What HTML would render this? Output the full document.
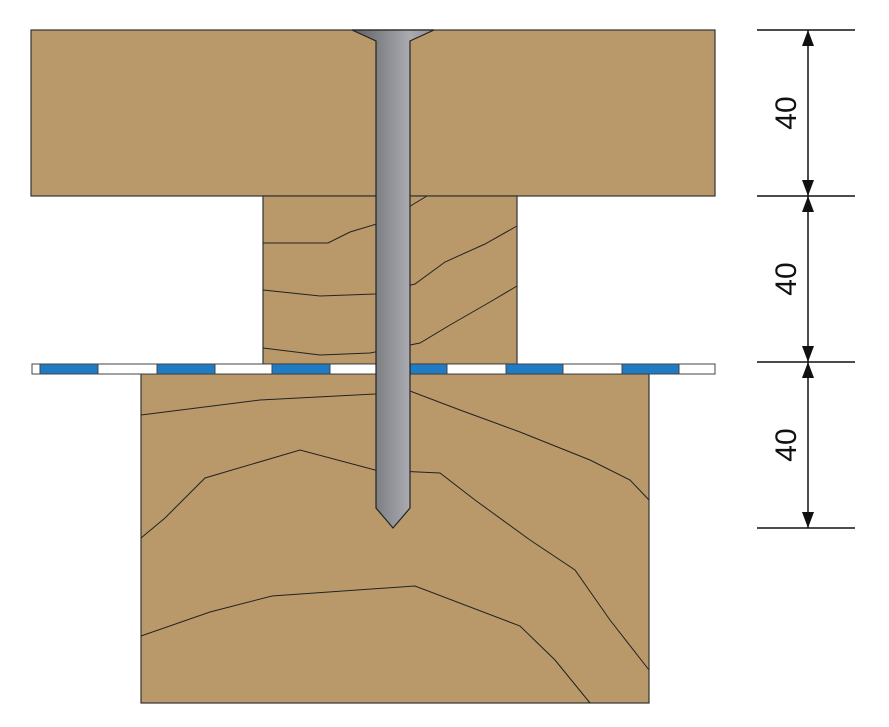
<!DOCTYPE html>
<html><head><style>html,body{margin:0;padding:0;background:#fff}svg{display:block}</style></head>
<body>
<svg width="889" height="727" viewBox="0 0 889 727" xmlns="http://www.w3.org/2000/svg">
<defs>
<linearGradient id="g" x1="0" x2="1" y1="0" y2="0">
<stop offset="0" stop-color="#5e5f63"/><stop offset="0.7" stop-color="#a9abb0"/><stop offset="1" stop-color="#8e9095"/>
</linearGradient>
</defs>
<g stroke="#333" stroke-width="1.2" fill="#b9996a">
<rect x="31" y="30" width="684" height="166"/>
<rect x="263" y="196" width="254" height="168"/>
<rect x="141" y="374" width="508" height="329"/>
</g>
<g fill="none" stroke="#222" stroke-width="1">
<path d="M263 243 L328 243 L350 232 L390 220 L412 205 L427 196"/>
<path d="M263 290 L320 296 L375 294 L415 284 L445 262 L485 244 L517 226"/>
<path d="M263 348 L320 355 L370 353 L420 343 L450 325 L490 302 L517 286"/>
<path d="M141 415 L260 400 L375 394 L410 391 L460 410 L520 432 L590 460 L630 480 L649 500"/>
<path d="M141 538 L165 518 L205 478 L300 450 L375 470 L440 473 L475 500 L530 540 L575 570 L610 620 L649 670"/>
<path d="M141 636 L210 612 L272 596 L415 586 L520 626 L555 660 L590 703"/>
</g>
<rect x="32" y="364" width="683" height="10" fill="#fff" stroke="#444" stroke-width="1"/>
<g fill="#1f7bc3" stroke="#444" stroke-width="1">
<rect x="40" y="364" width="58" height="10"/>
<rect x="157" y="364" width="58" height="10"/>
<rect x="272" y="364" width="58" height="10"/>
<rect x="410" y="364" width="37" height="10"/>
<rect x="506" y="364" width="57" height="10"/>
<rect x="622" y="364" width="57" height="10"/>
</g>
<path d="M352 30 L434 30 L410 41 L410 508 L393 528 L376 508 L376 41 Z" fill="url(#g)" stroke="#222" stroke-width="1.2"/>
<g stroke="#111" stroke-width="1.5">
<line x1="757" y1="30" x2="855" y2="30"/>
<line x1="757" y1="196" x2="855" y2="196"/>
<line x1="757" y1="362" x2="855" y2="362"/>
<line x1="757" y1="528" x2="855" y2="528"/>
<line x1="808" y1="30" x2="808" y2="528"/>
</g>
<g fill="#111">
<path d="M808 30 l-6 16 h12z"/><path d="M808 196 l-6 -16 h12z"/>
<path d="M808 196 l-6 16 h12z"/><path d="M808 362 l-6 -16 h12z"/>
<path d="M808 362 l-6 16 h12z"/><path d="M808 528 l-6 -16 h12z"/>
</g>
<g font-family="Liberation Sans, sans-serif" font-size="30" fill="#111" text-anchor="middle">
<text transform="translate(796 113) rotate(-90)">40</text>
<text transform="translate(796 279) rotate(-90)">40</text>
<text transform="translate(796 445) rotate(-90)">40</text>
</g>
</svg>
</body></html>
